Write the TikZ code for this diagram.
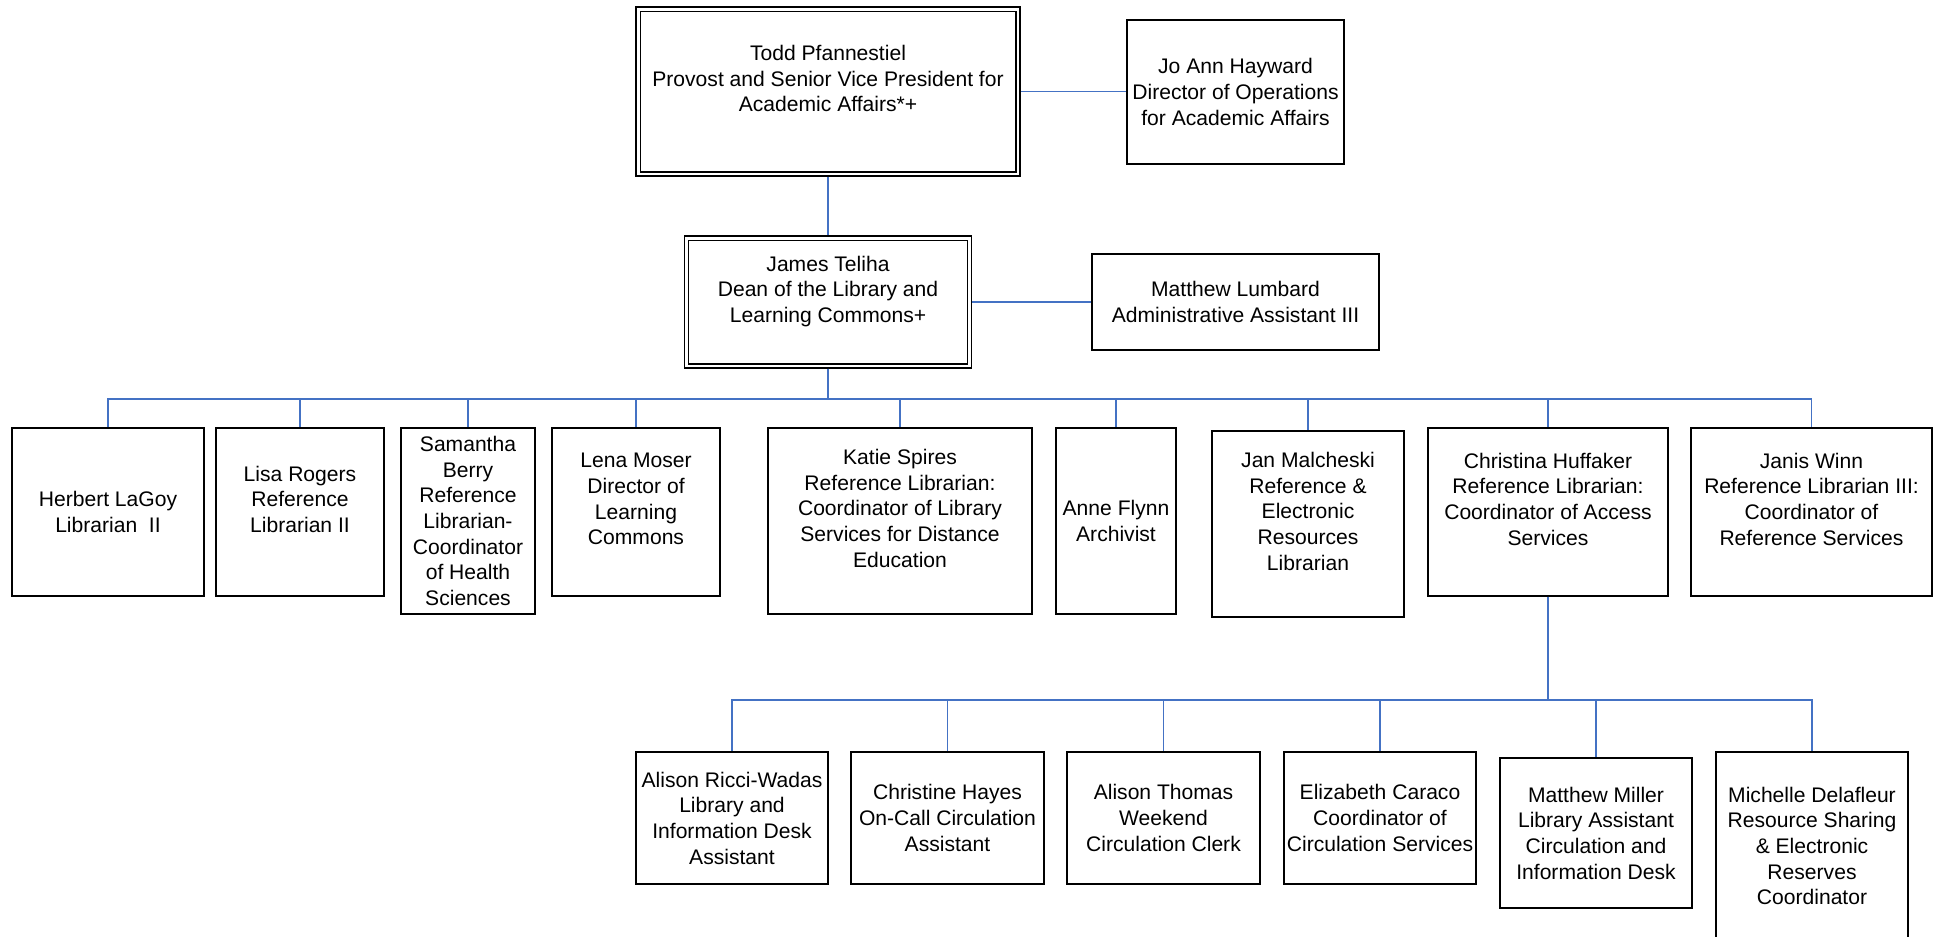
\documentclass[tikz,border=0pt]{standalone}
\usepackage{fontspec}
\setmainfont{Liberation Sans}
\definecolor{linkblue}{HTML}{4472C4}
\tikzset{
  box/.style={draw, line width=1.1pt, align=center, inner sep=1pt, font=\fontsize{12}{14.6}\selectfont},
  link/.style={draw=linkblue, line width=1.1pt},
  inner/.style={line width=0.6pt},
}
\begin{document}
\begin{tikzpicture}[x=0.2mm, y=-0.2mm]
  \useasboundingbox (0,0) rectangle (1935,936);
  \node[box, minimum width=76.8mm, minimum height=33.8mm] (provost) at (828,91.5) {Todd Pfannestiel\\Provost and Senior Vice President for\\Academic Affairs*+\\~};
  \draw[inner] ([shift={(5,5)}]provost.north west) rectangle ([shift={(-5,-5)}]provost.south east);
  \node[box, minimum width=43.4mm, minimum height=28.8mm] (jo) at (1235.5,92) {Jo Ann Hayward\\Director of Operations\\for Academic Affairs};
  \node[box, minimum width=57.4mm, minimum height=26.4mm] (dean) at (828,302) {James Teliha\\Dean of the Library and\\Learning Commons+\\~};
  \draw[inner] ([shift={(5,5)}]dean.north west) rectangle ([shift={(-5,-5)}]dean.south east);
  \node[box, minimum width=57.4mm, minimum height=19.2mm] (lumbard) at (1235.5,302) {Matthew Lumbard\\Administrative Assistant III};

  \node[box, minimum width=38.4mm, minimum height=33.6mm] (herbert) at (108,512) {Herbert LaGoy\\Librarian~~II};
  \node[box, minimum width=33.6mm, minimum height=33.6mm] (lisa) at (300,512) {Lisa Rogers\\Reference\\Librarian II\\~};
  \node[box, minimum width=26.8mm, minimum height=37.2mm] (samantha) at (468,521) {Samantha\\Berry\\Reference\\Librarian-\\Coordinator\\of Health\\Sciences};
  \node[box, minimum width=33.6mm, minimum height=33.6mm] (lena) at (636,512) {Lena Moser\\Director of\\Learning\\Commons\\~};
  \node[box, minimum width=52.8mm, minimum height=37.2mm] (katie) at (900,521) {Katie Spires\\Reference Librarian:\\Coordinator of Library\\Services for Distance\\Education\\~};
  \node[box, minimum width=24mm, minimum height=37.2mm] (anne) at (1116,521) {Anne Flynn\\Archivist};
  \node[box, minimum width=38.4mm, minimum height=37.2mm] (jan) at (1308,524) {Jan Malcheski\\Reference \&\\Electronic\\Resources\\Librarian\\~};
  \node[box, minimum width=48mm, minimum height=33.6mm] (christina) at (1548,512) {Christina Huffaker\\Reference Librarian:\\Coordinator of Access\\Services\\~};
  \node[box, minimum width=48.2mm, minimum height=33.6mm] (janis) at (1811.5,512) {Janis Winn\\Reference Librarian III:\\Coordinator of\\Reference Services\\~};

  \node[box, minimum width=38.4mm, minimum height=26.4mm] (ricci) at (732,818) {Alison Ricci-Wadas\\Library and\\Information Desk\\Assistant};
  \node[box, minimum width=38.6mm, minimum height=26.4mm] (hayes) at (947.5,818) {Christine Hayes\\On-Call Circulation\\Assistant};
  \node[box, minimum width=38.6mm, minimum height=26.4mm] (thomas) at (1163.5,818) {Alison Thomas\\Weekend\\Circulation Clerk};
  \node[box, minimum width=38.4mm, minimum height=26.4mm] (caraco) at (1380,818) {Elizabeth Caraco\\Coordinator of\\Circulation Services};
  \node[box, minimum width=38.4mm, minimum height=30mm] (miller) at (1596,833) {Matthew Miller\\Library Assistant\\Circulation and\\Information Desk};
  \node[box, minimum width=38.4mm, minimum height=37.6mm] (delafleur) at (1812,846) {Michelle Delafleur\\Resource Sharing\\\& Electronic\\Reserves\\Coordinator};

  \draw[link] (provost.east) -- (provost.east -| jo.west);
  \draw[link] (provost) -- (dean);
  \draw[link] (dean) -- (lumbard);
  \coordinate (bus) at (828,399);
  \foreach \n in {herbert,lisa,samantha,lena,katie,anne,jan,christina,janis}
    \draw[link] (dean.south) -- (bus) -| (\n.north);
  \coordinate (subbus) at (1548,700);
  \foreach \n in {ricci,hayes,thomas,caraco,miller,delafleur}
    \draw[link] (christina.south) -- (subbus) -| (\n.north);
\end{tikzpicture}
\end{document}
